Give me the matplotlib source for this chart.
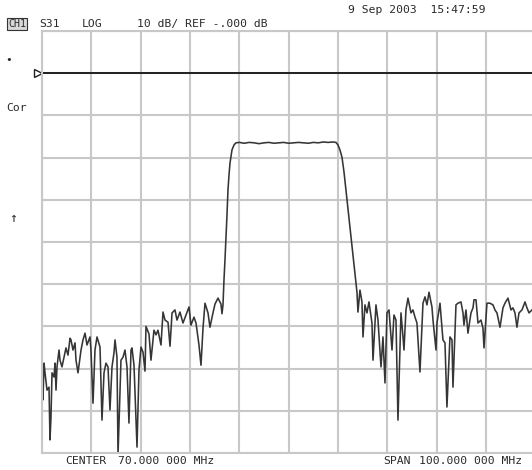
import matplotlib
matplotlib.use("Agg")
import matplotlib.pyplot as plt

# ---- trace data (S31, dB vs MHz) -------------------------------------------
freq_low = [20.00, 20.20, 20.41, 20.61, 21.01, 21.42, 21.62, 21.82, 22.03, 22.43,
            22.64, 22.84, 23.04, 23.45, 23.65, 24.05, 24.46, 24.86, 25.27, 25.68,
            25.88, 26.28, 26.69, 26.89, 27.30, 27.91, 28.31, 28.72, 29.12, 29.73,
            29.93, 30.34, 30.74, 31.15, 31.76, 32.16, 32.57, 32.97, 33.38, 33.78,
            34.19, 34.59, 34.80, 35.20, 35.41, 36.01, 36.42, 36.82, 37.23, 37.63,
            38.04, 38.24, 38.65, 39.26, 39.66, 40.07, 40.47, 40.88, 41.08, 41.69,
            42.09, 42.70, 43.11, 43.51, 44.12, 44.53, 44.93, 45.54, 45.95, 46.36,
            46.96, 47.36, 47.97, 48.58, 49.19, 49.80, 50.20, 50.81, 51.22, 51.82,
            52.23, 52.64, 53.04, 53.65, 54.05, 54.66, 55.07, 55.68, 56.28, 56.49]
level_low = [-72.7, -77.4, -68.7, -71.0, -75.1, -74.4, -86.9, -81.5, -71.0, -72.0,
             -68.7, -75.1, -69.6, -65.6, -68.0, -69.6, -67.3, -65.1, -66.8, -62.8,
             -63.2, -65.6, -63.9, -68.0, -71.0, -65.6, -63.2, -61.6, -64.4, -62.5,
             -65.6, -78.2, -65.6, -62.5, -64.9, -82.2, -71.0, -68.7, -69.6, -79.8,
             -69.6, -66.3, -63.2, -67.3, -90.5, -68.0, -67.3, -65.6, -69.6, -82.9,
             -65.6, -65.1, -69.2, -88.6, -70.3, -64.9, -66.1, -70.6, -60.0, -61.8,
             -68.0, -60.9, -62.0, -60.9, -64.4, -56.6, -58.5, -59.0, -64.7, -56.8,
             -56.1, -58.5, -56.6, -59.2, -57.3, -55.4, -59.7, -57.8, -59.2, -64.4,
             -69.2, -60.4, -54.5, -56.8, -60.2, -56.8, -54.7, -53.3, -54.7, -57.0]

freq_rise = [56.69, 56.89, 57.09, 57.30, 57.50, 57.70, 57.91, 58.11, 58.51, 58.92, 59.32]
level_rise = [-54.9, -49.0, -44.3, -38.8, -33.6, -27.7, -24.1, -21.3, -18.2, -17.0, -16.5]

freq_pass = [60, 61, 62, 63, 64, 65, 66, 67, 68, 69, 70, 71, 72, 73, 74, 75, 76,
             77, 78, 79, 79.59]
level_pass = [-16.4, -16.6, -16.4, -16.5, -16.7, -16.5, -16.4, -16.6, -16.5, -16.4,
              -16.6, -16.5, -16.4, -16.5, -16.6, -16.4, -16.5, -16.3, -16.4, -16.3,
              -16.4]

freq_fall = [80.00, 80.40, 80.81, 81.22, 81.62, 82.03, 82.43, 82.84, 83.24, 83.65, 83.85]
level_fall = [-17.0, -18.2, -19.9, -23.4, -27.7, -31.9, -36.2, -40.7, -45.0, -49.5, -51.9]

freq_high = [84.05, 84.46, 84.86, 85.07, 85.47, 85.88, 86.28, 86.89, 87.10, 87.70,
             88.11, 88.72, 89.12, 89.53, 89.93, 90.34, 90.95, 91.35, 91.76, 92.16,
             92.77, 93.18, 93.38, 93.78, 94.19, 94.80, 95.20, 95.61, 96.01, 96.62,
             97.23, 97.64, 98.04, 98.45, 99.05, 99.26, 99.87, 100.07, 100.68, 101.28,
             101.69, 102.09, 102.70, 103.11, 103.31, 103.92, 104.32, 104.93, 105.34,
             105.54, 105.95, 106.35, 106.96, 107.37, 107.57, 107.98, 108.38, 108.99,
             109.39, 109.60, 110.20, 110.81, 111.42, 111.82, 112.23, 112.84, 113.45,
             113.85, 114.46, 115.07, 115.47, 115.88, 116.28, 116.69, 117.30, 117.91,
             118.31, 118.72, 119.33, 119.94]
level_high = [-56.6, -51.4, -54.2, -62.5, -54.9, -56.8, -54.2, -59.2, -68.0, -54.9,
              -58.5, -69.6, -62.5, -73.4, -56.8, -56.1, -65.6, -57.3, -58.5, -82.2,
              -56.8, -62.5, -65.6, -56.1, -53.3, -56.8, -56.1, -57.8, -59.2, -70.8,
              -54.5, -53.0, -54.9, -51.9, -55.4, -58.5, -65.6, -59.2, -54.5, -63.2,
              -63.9, -79.1, -62.5, -63.2, -74.4, -54.9, -54.5, -54.2, -56.8,
              -59.7, -56.1, -61.6, -56.8, -55.6, -53.7, -53.7, -59.2, -58.5,
              -60.4, -65.1, -54.5, -54.5, -54.9, -56.1, -56.8, -60.2, -55.6,
              -54.5, -53.3, -56.1, -55.6, -56.8, -60.2, -56.8, -56.1, -54.2,
              -55.6, -56.8, -56.1, -55.2]

CENTER_MHZ = 70.0
SPAN_MHZ = 100.0
REF_DB = 0.0
SCALE_DB = 10.0

freq = freq_low + freq_rise + freq_pass + freq_fall + freq_high
level = level_low + level_rise + level_pass + level_fall + level_high

# ---- figure: 532 x 470 px ----------------------------------------------------
W, H = 532, 470
fig = plt.figure(figsize=(W / 100, H / 100), dpi=100)
fig.patch.set_facecolor("white")

# grid box: x 42 -> 535 px, y 31 -> 453 px
ax = fig.add_axes([42 / W, (H - 453) / H, 493.3 / W, 422 / H])
f0 = CENTER_MHZ - SPAN_MHZ / 2
f1 = CENTER_MHZ + SPAN_MHZ / 2
top = REF_DB + SCALE_DB
bottom = REF_DB - 9 * SCALE_DB
ax.set_xlim(f0, f1)
ax.set_ylim(bottom, top)
ax.set_xticks([f0 + i * SPAN_MHZ / 10 for i in range(11)])
ax.set_yticks([bottom + i * SCALE_DB for i in range(11)])
ax.tick_params(length=0, labelbottom=False, labelleft=False)
ax.grid(True, color="#c8c8c8", linewidth=1.5)
for s in ax.spines.values():
    s.set_color("#c8c8c8")
    s.set_linewidth(1.5)
ax.set_axisbelow(True)

# reference line + marker
ax.axhline(REF_DB, color="#202020", linewidth=1.4)
ax.plot([f0 - 0.75], [REF_DB], marker=">", markersize=5.5, markerfacecolor="white",
        markeredgecolor="#202020", markeredgewidth=1.0, clip_on=False)

# measured trace
ax.plot(freq, level, color="#353535", linewidth=1.15)

# ---- annotation text ---------------------------------------------------------
mono = "DejaVu Sans Mono"
def put(x, y, s, fs=8.2, **kw):
    fig.text(x / W, 1 - y / H, s, fontsize=fs, family=mono, color="#2a2a2a",
             va="center", ha="left", **kw)

put(8, 24, "CH1", fs=7.2,
    bbox=dict(boxstyle="square,pad=0.1", facecolor="#d8d8d8", edgecolor="#333333",
              linewidth=0.8))
put(39, 24, "S31")
put(82, 24, "LOG")
put(137, 24, "10 dB/ REF -.000 dB")
put(348, 10, "9 Sep 2003  15:47:59")
put(5, 60, "\u2022", fs=8)
put(6, 108, "Cor")
put(9, 219, "\u2191", fs=9.5)
put(65, 461, "CENTER")
put(118, 461, "70.000 000 MHz")
put(383, 461, "SPAN")
put(419, 461, "100.000 000 MHz")

fig.savefig("out.png", dpi=100, facecolor="white")
